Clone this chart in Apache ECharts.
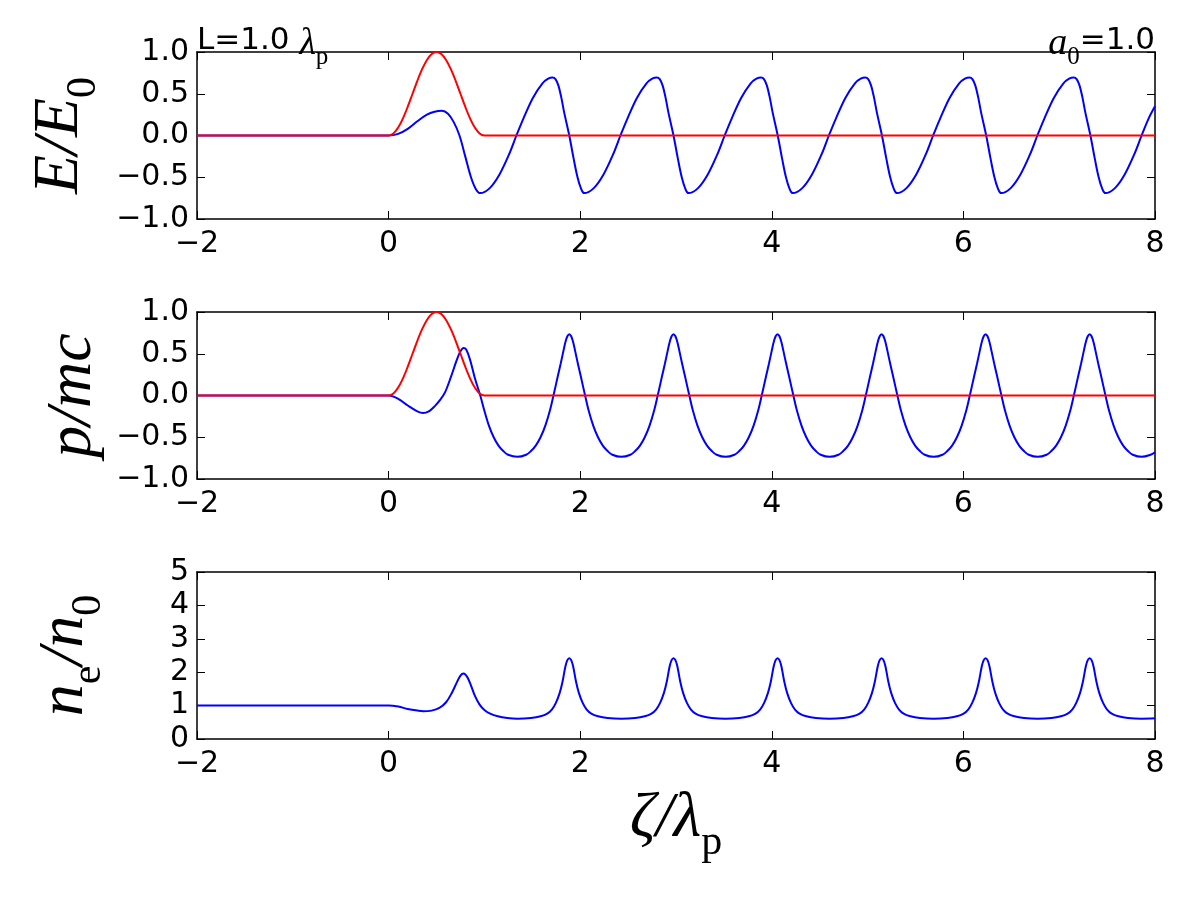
<!DOCTYPE html>
<html>
<head>
<meta charset="utf-8">
<script src="https://cdn.jsdelivr.net/npm/echarts@6/dist/echarts.min.js"></script>
<style>html,body{margin:0;background:#fff}#chart{width:1200px;height:900px}</style>
</head>
<body>
<div id="chart"></div>
<script>
// zeta/lambda_p ticks, shared by the three panels
var zetaTicks = [-2, 0, 2, 4, 6, 8];
var fieldTicks = [-1, -0.5, 0, 0.5, 1];
var densityTicks = [0, 1, 2, 3, 4, 5];

// laser envelope (red), same in E and p panels
var laserEnv = [[-2,0],[0,0],[0.05,0.024],[0.1,0.095],[0.15,0.206],[0.2,0.345],[0.25,0.5],[0.3,0.655],[0.35,0.794],[0.4,0.905],[0.45,0.976],[0.5,1],[0.55,0.976],[0.6,0.905],[0.65,0.794],[0.7,0.655],[0.75,0.5],[0.8,0.345],[0.85,0.206],[0.9,0.095],[0.95,0.024],[1,0],[8,0]];

// wake field E/E0 (blue)
var eField = [[-2,0],[0,0],[0.1,0.02],[0.2,0.08],[0.3,0.17],[0.4,0.25],[0.48,0.285],[0.557,0.295],[0.62,0.26],[0.68,0.16],[0.74,0],[0.8,-0.25],[0.86,-0.5],[0.91,-0.64],[0.956,-0.69],
  [1.056,-0.63],[1.156,-0.47],[1.256,-0.23],[1.334,0],[1.406,0.2],[1.506,0.45],[1.606,0.625],[1.666,0.68],[1.712,0.695],
  [1.742,0.675],[1.772,0.6],[1.802,0.46],[1.832,0.28],[1.886,0],[1.932,-0.28],[1.972,-0.5],[2.007,-0.63],[2.042,-0.69],
  [2.142,-0.63],[2.242,-0.47],[2.342,-0.23],[2.42,0],[2.492,0.2],[2.592,0.45],[2.692,0.625],[2.752,0.68],[2.8,0.695],
  [2.83,0.675],[2.86,0.6],[2.89,0.46],[2.92,0.28],[2.974,0],[3.02,-0.28],[3.06,-0.5],[3.095,-0.63],[3.13,-0.69],
  [3.23,-0.63],[3.33,-0.47],[3.43,-0.23],[3.508,0],[3.58,0.2],[3.68,0.45],[3.78,0.625],[3.84,0.68],[3.888,0.695],
  [3.918,0.675],[3.948,0.6],[3.978,0.46],[4.008,0.28],[4.062,0],[4.108,-0.28],[4.148,-0.5],[4.183,-0.63],[4.218,-0.69],
  [4.318,-0.63],[4.418,-0.47],[4.518,-0.23],[4.596,0],[4.668,0.2],[4.768,0.45],[4.868,0.625],[4.928,0.68],[4.976,0.695],
  [5.006,0.675],[5.036,0.6],[5.066,0.46],[5.096,0.28],[5.15,0],[5.196,-0.28],[5.236,-0.5],[5.271,-0.63],[5.306,-0.69],
  [5.406,-0.63],[5.506,-0.47],[5.606,-0.23],[5.684,0],[5.756,0.2],[5.856,0.45],[5.956,0.625],[6.016,0.68],[6.064,0.695],
  [6.094,0.675],[6.124,0.6],[6.154,0.46],[6.184,0.28],[6.238,0],[6.284,-0.28],[6.324,-0.5],[6.359,-0.63],[6.394,-0.69],
  [6.494,-0.63],[6.594,-0.47],[6.694,-0.23],[6.772,0],[6.844,0.2],[6.944,0.45],[7.044,0.625],[7.104,0.68],[7.152,0.695],
  [7.182,0.675],[7.212,0.6],[7.242,0.46],[7.272,0.28],[7.326,0],[7.372,-0.28],[7.412,-0.5],[7.447,-0.63],[7.482,-0.69],
  [7.582,-0.63],[7.682,-0.47],[7.782,-0.23],[7.86,0],[7.932,0.2],[8,0.35]];

// electron momentum p/mc (blue)
var pMom = [[-2,0],[0,0],[0.1,-0.04],[0.2,-0.12],[0.3,-0.19],[0.36,-0.21],[0.42,-0.19],[0.48,-0.13],[0.54,-0.05],[0.59,0.04],[0.65,0.22],[0.71,0.42],[0.75,0.53],[0.783,0.57],[0.81,0.55],[0.85,0.43],[0.9,0.21],[0.957,0],[0.997,-0.17],[1.047,-0.36],[1.097,-0.5],[1.147,-0.6],[1.197,-0.665],[1.247,-0.71],[1.343,-0.735],
  [1.436,-0.71],[1.486,-0.665],[1.536,-0.6],[1.586,-0.5],[1.636,-0.36],[1.686,-0.17],[1.721,0],[1.766,0.23],[1.796,0.38],[1.826,0.54],[1.846,0.64],[1.866,0.71],[1.886,0.735],[1.906,0.71],[1.926,0.64],[1.946,0.54],[1.976,0.38],[2.006,0.23],[2.051,0],[2.086,-0.17],[2.136,-0.36],[2.186,-0.5],[2.236,-0.6],[2.286,-0.665],[2.336,-0.71],[2.429,-0.735],
  [2.524,-0.71],[2.574,-0.665],[2.624,-0.6],[2.674,-0.5],[2.724,-0.36],[2.774,-0.17],[2.809,0],[2.854,0.23],[2.884,0.38],[2.914,0.54],[2.934,0.64],[2.954,0.71],[2.974,0.735],[2.994,0.71],[3.014,0.64],[3.034,0.54],[3.064,0.38],[3.094,0.23],[3.139,0],[3.174,-0.17],[3.224,-0.36],[3.274,-0.5],[3.324,-0.6],[3.374,-0.665],[3.424,-0.71],[3.517,-0.735],
  [3.61,-0.71],[3.66,-0.665],[3.71,-0.6],[3.76,-0.5],[3.81,-0.36],[3.86,-0.17],[3.895,0],[3.94,0.23],[3.97,0.38],[4.0,0.54],[4.02,0.64],[4.04,0.71],[4.06,0.735],[4.08,0.71],[4.1,0.64],[4.12,0.54],[4.15,0.38],[4.18,0.23],[4.225,0],[4.26,-0.17],[4.31,-0.36],[4.36,-0.5],[4.41,-0.6],[4.46,-0.665],[4.51,-0.71],[4.603,-0.735],
  [4.696,-0.71],[4.746,-0.665],[4.796,-0.6],[4.846,-0.5],[4.896,-0.36],[4.946,-0.17],[4.981,0],[5.026,0.23],[5.056,0.38],[5.086,0.54],[5.106,0.64],[5.126,0.71],[5.146,0.735],[5.166,0.71],[5.186,0.64],[5.206,0.54],[5.236,0.38],[5.266,0.23],[5.311,0],[5.346,-0.17],[5.396,-0.36],[5.446,-0.5],[5.496,-0.6],[5.546,-0.665],[5.596,-0.71],[5.689,-0.735],
  [5.782,-0.71],[5.832,-0.665],[5.882,-0.6],[5.932,-0.5],[5.982,-0.36],[6.032,-0.17],[6.067,0],[6.112,0.23],[6.142,0.38],[6.172,0.54],[6.192,0.64],[6.212,0.71],[6.232,0.735],[6.252,0.71],[6.272,0.64],[6.292,0.54],[6.322,0.38],[6.352,0.23],[6.397,0],[6.432,-0.17],[6.482,-0.36],[6.532,-0.5],[6.582,-0.6],[6.632,-0.665],[6.682,-0.71],[6.775,-0.735],
  [6.868,-0.71],[6.918,-0.665],[6.968,-0.6],[7.018,-0.5],[7.068,-0.36],[7.118,-0.17],[7.153,0],[7.198,0.23],[7.228,0.38],[7.258,0.54],[7.278,0.64],[7.298,0.71],[7.318,0.735],[7.338,0.71],[7.358,0.64],[7.378,0.54],[7.408,0.38],[7.438,0.23],[7.483,0],[7.518,-0.17],[7.568,-0.36],[7.618,-0.5],[7.668,-0.6],[7.718,-0.665],[7.768,-0.71],[7.861,-0.735],[7.954,-0.71],[8,-0.68]];

// electron density n_e/n_0 (blue)
var density = [[-2,1],[0,1],[0.1,0.97],[0.2,0.9],[0.3,0.85],[0.36,0.83],[0.45,0.85],[0.53,0.93],[0.6,1.1],[0.66,1.38],[0.71,1.68],[0.75,1.9],[0.783,1.96],[0.82,1.86],[0.86,1.6],[0.9,1.3],[0.95,1.03],[1,0.87],[1.06,0.76],[1.14,0.68],[1.24,0.63],[1.343,0.61],
  [1.486,0.63],[1.586,0.68],[1.656,0.76],[1.706,0.89],[1.746,1.08],[1.786,1.38],[1.816,1.72],[1.846,2.18],[1.866,2.36],[1.886,2.42],[1.906,2.36],[1.926,2.18],[1.956,1.72],[1.986,1.38],[2.026,1.08],[2.066,0.89],[2.116,0.76],[2.186,0.68],[2.286,0.63],[2.429,0.61],
  [2.574,0.63],[2.674,0.68],[2.744,0.76],[2.794,0.89],[2.834,1.08],[2.874,1.38],[2.904,1.72],[2.934,2.18],[2.954,2.36],[2.974,2.42],[2.994,2.36],[3.014,2.18],[3.044,1.72],[3.074,1.38],[3.114,1.08],[3.154,0.89],[3.204,0.76],[3.274,0.68],[3.374,0.63],[3.517,0.61],
  [3.66,0.63],[3.76,0.68],[3.83,0.76],[3.88,0.89],[3.92,1.08],[3.96,1.38],[3.99,1.72],[4.02,2.18],[4.04,2.36],[4.06,2.42],[4.08,2.36],[4.1,2.18],[4.13,1.72],[4.16,1.38],[4.2,1.08],[4.24,0.89],[4.29,0.76],[4.36,0.68],[4.46,0.63],[4.603,0.61],
  [4.746,0.63],[4.846,0.68],[4.916,0.76],[4.966,0.89],[5.006,1.08],[5.046,1.38],[5.076,1.72],[5.106,2.18],[5.126,2.36],[5.146,2.42],[5.166,2.36],[5.186,2.18],[5.216,1.72],[5.246,1.38],[5.286,1.08],[5.326,0.89],[5.376,0.76],[5.446,0.68],[5.546,0.63],[5.689,0.61],
  [5.832,0.63],[5.932,0.68],[6.002,0.76],[6.052,0.89],[6.092,1.08],[6.132,1.38],[6.162,1.72],[6.192,2.18],[6.212,2.36],[6.232,2.42],[6.252,2.36],[6.272,2.18],[6.302,1.72],[6.332,1.38],[6.372,1.08],[6.412,0.89],[6.462,0.76],[6.532,0.68],[6.632,0.63],[6.775,0.61],
  [6.918,0.63],[7.018,0.68],[7.088,0.76],[7.138,0.89],[7.178,1.08],[7.218,1.38],[7.248,1.72],[7.278,2.18],[7.298,2.36],[7.318,2.42],[7.338,2.36],[7.358,2.18],[7.388,1.72],[7.418,1.38],[7.458,1.08],[7.498,0.89],[7.548,0.76],[7.618,0.68],[7.718,0.63],[7.861,0.61],[8,0.62]];

var chart = echarts.init(document.getElementById('chart'));

var minus = function (s) { return String(s).replace('-', '\u2212'); };
var serif = 'Liberation Serif';
var mathRich = {
  m: {fontFamily: serif, fontStyle: 'italic', fontWeight: 'normal', fontSize: 64, color: '#000', lineHeight: 64, verticalAlign: 'top'},
  r: {fontFamily: serif, fontWeight: 'normal', fontSize: 42, color: '#000', lineHeight: 42, padding: [35, 0, 0, 0], verticalAlign: 'top'}
};
var titleRich = {
  a: {fontFamily: 'DejaVu Sans', fontWeight: 'normal', fontSize: 31, color: '#000', lineHeight: 34, verticalAlign: 'top'},
  g: {fontFamily: serif, fontStyle: 'italic', fontWeight: 'normal', fontSize: 38, color: '#000', lineHeight: 34, verticalAlign: 'top'},
  p: {fontFamily: serif, fontWeight: 'normal', fontSize: 25, color: '#000', lineHeight: 25, padding: [20, 0, 0, 0], verticalAlign: 'top'}
};

var frame = {onZero: false, lineStyle: {color: '#000', width: 1.5}};
var ticks = {inside: true, length: 8, lineStyle: {color: '#000', width: 1}};
var tickFont = {fontFamily: 'DejaVu Sans', fontSize: 30, color: '#000'};

var tops = [52, 312, 572];
var panels = [
  {ticks: fieldTicks, name: '{m|E/E}{r|0}', gap: 100, fmt: function (v) { return minus(v.toFixed(1)); }},
  {ticks: fieldTicks, name: '{m|p/mc}', gap: 92, fmt: function (v) { return minus(v.toFixed(1)); }},
  {ticks: densityTicks, name: '{m|n}{r|e}{m|/n}{r|0}', gap: 100, fmt: function (v) { return String(v); }}
];

var grids = [], xAxes = [], yAxes = [];
panels.forEach(function (p, i) {
  grids.push({left: 197, right: 45, top: tops[i], height: 167});
  var xBase = {gridIndex: i, type: 'value', min: zetaTicks[0], max: zetaTicks[zetaTicks.length - 1],
    interval: zetaTicks[1] - zetaTicks[0], axisLine: frame, axisTick: ticks, splitLine: {show: false}};
  xAxes.push(Object.assign({}, xBase, {position: 'bottom',
    axisLabel: Object.assign({margin: 10, formatter: minus}, tickFont),
    name: i === 2 ? '{m|\u03b6/\u03bb}{r|p}' : '', nameLocation: 'middle', nameGap: 48,
    nameTextStyle: {rich: mathRich}}));
  xAxes.push(Object.assign({}, xBase, {position: 'top', axisLabel: {show: false}}));
  var yBase = {gridIndex: i, type: 'value', min: p.ticks[0], max: p.ticks[p.ticks.length - 1],
    interval: p.ticks[1] - p.ticks[0], axisLine: frame, axisTick: ticks, splitLine: {show: false}};
  yAxes.push(Object.assign({}, yBase, {position: 'left',
    axisLabel: Object.assign({margin: 8, formatter: p.fmt}, tickFont),
    name: p.name, nameLocation: 'middle', nameRotate: 90, nameGap: p.gap,
    nameTextStyle: {rich: mathRich}}));
  yAxes.push(Object.assign({}, yBase, {position: 'right', axisLabel: {show: false}}));
});

function line(data, color, idx) {
  return {type: 'line', data: data, xAxisIndex: idx * 2, yAxisIndex: idx * 2, showSymbol: false,
    smooth: 0.35, lineStyle: {color: color, width: 2}, itemStyle: {color: color}, silent: true};
}

chart.setOption({
  animation: false,
  backgroundColor: '#fff',
  title: [
    {text: '{a|L=1.0 }{g|\u03bb}{p|p}', left: 197, top: 25, padding: 0, textStyle: {rich: titleRich}},
    {text: '{g|a}{p|0}{a|=1.0}', right: 45, top: 25, padding: 0, textStyle: {rich: titleRich}}
  ],
  grid: grids,
  xAxis: xAxes,
  yAxis: yAxes,
  series: [
    line(eField, '#0000ff', 0),
    line(laserEnv, '#ff0000', 0),
    line(pMom, '#0000ff', 1),
    line(laserEnv, '#ff0000', 1),
    line(density, '#0000ff', 2)
  ]
});
</script>
</body>
</html>
